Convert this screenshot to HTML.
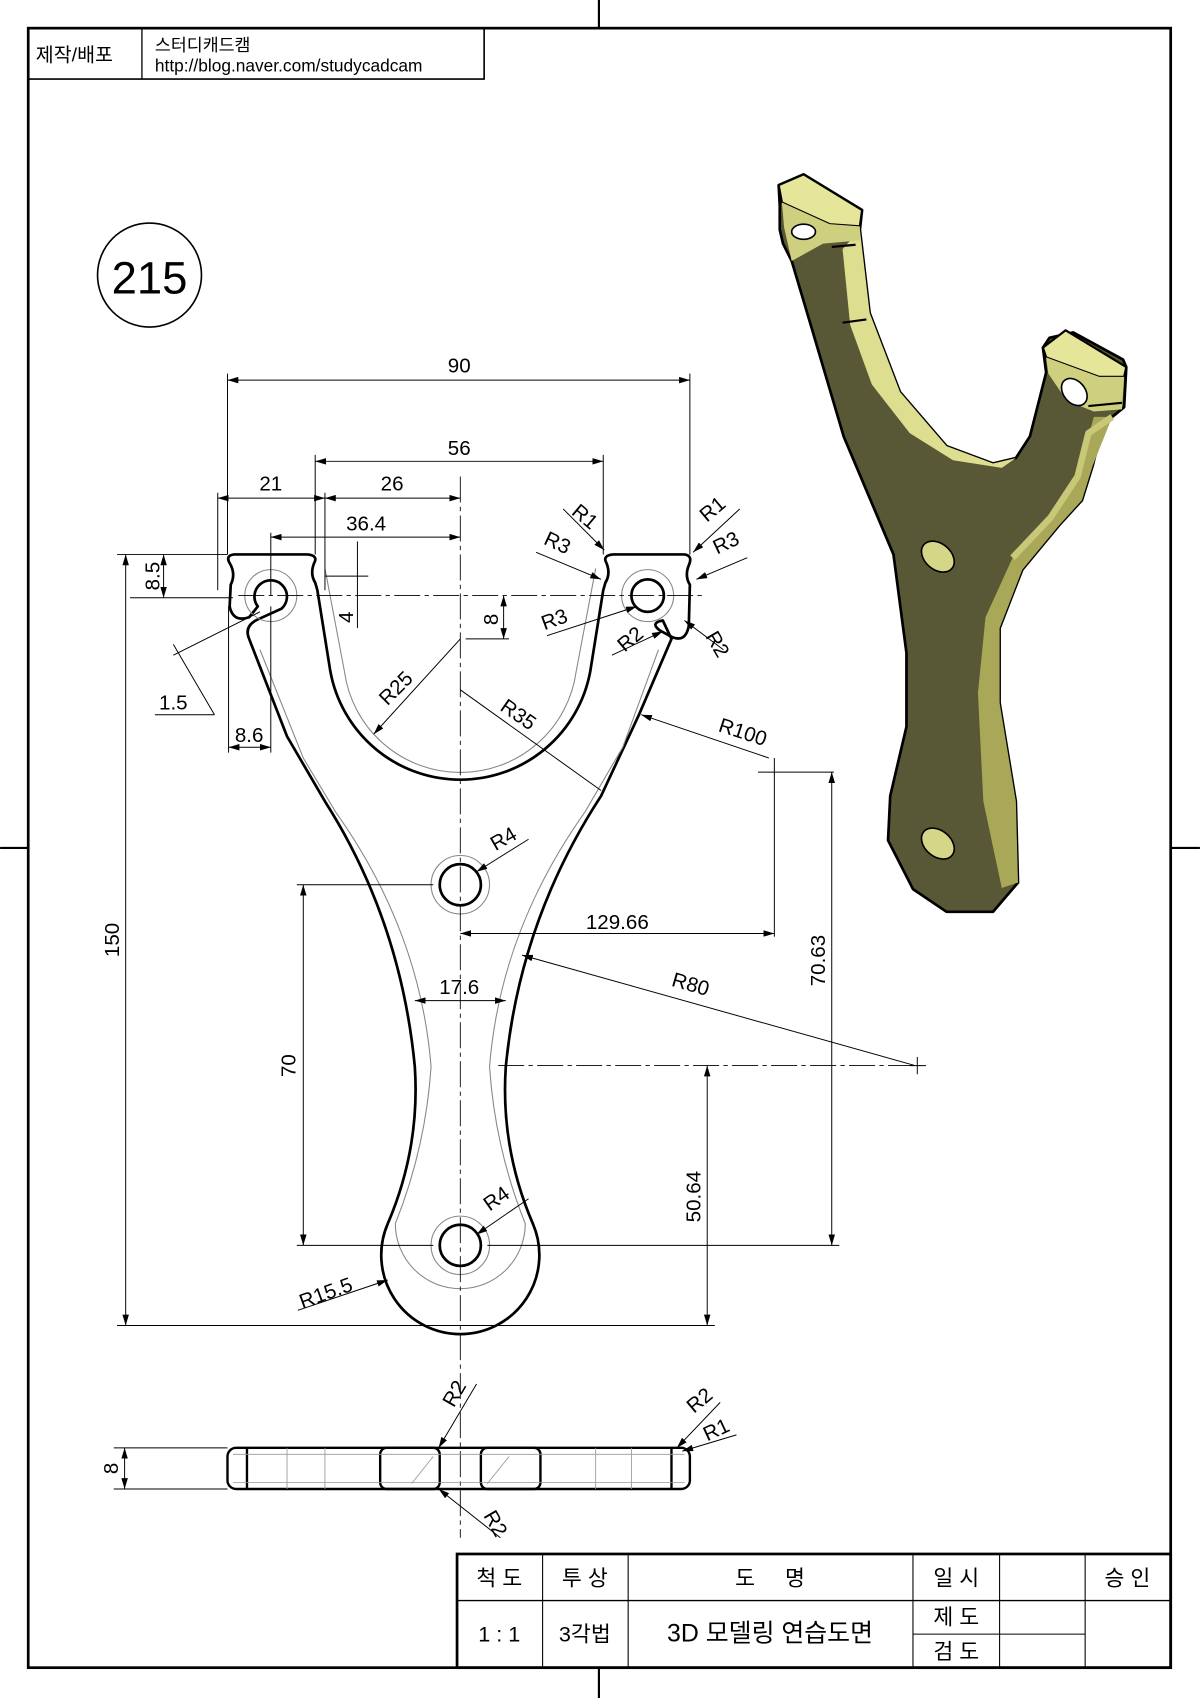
<!DOCTYPE html>
<html><head><meta charset="utf-8"><style>
html,body{margin:0;padding:0;background:#fff}
svg{display:block}
text{font-family:"Liberation Sans","Noto Sans CJK KR",sans-serif;fill:#000}
</style></head><body>
<svg width="1200" height="1698" viewBox="0 0 1108 1568" xmlns="http://www.w3.org/2000/svg">
<defs>
<marker id="a" viewBox="0 0 10 6" refX="10" refY="3" markerWidth="10" markerHeight="6" orient="auto-start-reverse" markerUnits="userSpaceOnUse"><path d="M0,0L10,3L0,6z" fill="#000"/></marker>
</defs>
<rect x="0" y="0" width="1108" height="1568" fill="#fff"/>
<rect x="26" y="26" width="1055" height="1514" fill="none" stroke="#000" stroke-width="2.5"/>
<line x1="553" y1="0" x2="553" y2="26" stroke="#000" stroke-width="2"/>
<line x1="553" y1="1540" x2="553" y2="1568" stroke="#000" stroke-width="2"/>
<line x1="0" y1="783" x2="26" y2="783" stroke="#000" stroke-width="2"/>
<line x1="1081" y1="783" x2="1108" y2="783" stroke="#000" stroke-width="2"/>
<rect x="26" y="26" width="421" height="47" fill="none" stroke="#000" stroke-width="1.5"/>
<line x1="131" y1="26" x2="131" y2="73" stroke="#000" stroke-width="1.2"/>
<text x="33" y="57" font-size="18">제작/배포</text>
<text x="143" y="47" font-size="16">스터디캐드캠</text>
<text x="143" y="66" font-size="16">http://blog.naver.com/studycadcam</text>
<circle cx="138" cy="254" r="48" fill="none" stroke="#000" stroke-width="1.5"/>
<text x="138" y="271" font-size="42" text-anchor="middle">215</text>
<g stroke="#000" fill="none">
<rect x="422" y="1435" width="659" height="105" stroke-width="2.5"/>
<line x1="422" y1="1478" x2="1081" y2="1478" stroke-width="1.2"/>
<line x1="501" y1="1435" x2="501" y2="1540"/><line x1="580" y1="1435" x2="580" y2="1540"/>
<line x1="843" y1="1435" x2="843" y2="1540"/><line x1="923" y1="1435" x2="923" y2="1540"/>
<line x1="1002" y1="1435" x2="1002" y2="1540"/><line x1="843" y1="1509" x2="1002" y2="1509"/>
</g>
<g font-size="20" text-anchor="middle">
<text x="461" y="1464">척 도</text><text x="540" y="1464">투 상</text><text x="711" y="1464">도 &#160; &#160; 명</text>
<text x="883" y="1464">일 시</text><text x="1041" y="1464">승 인</text>
<text x="461" y="1516">1 : 1</text><text x="540" y="1516">3각법</text><text x="711" y="1516" font-size="23">3D 모델링 연습도면</text>
<text x="883" y="1500">제 도</text><text x="883" y="1532">검 도</text>
</g>
<g fill="none" stroke="#000" stroke-width="2.5" stroke-linejoin="round">
<path d="M290,520 Q286,530 291,538 L293,545 L305,620 A122,122 0 0 0 545,620 L557,545 L559,538 Q564,530 560,520 Q556,513 566,512 L632,512 Q640,513 636,522 Q632,532 637,540 L636,578 Q633,594 620,588 L609,582 Q600,575 612,573 L620,590 L590,660 L555,735 Q480,850 467,985 Q462,1060 492,1130 A73,73 0 1 1 358,1130 Q388,1060 383,985 Q370,850 300,740 L265,680 L230,590 Q225,578 238,572 L260,562 A15,15 0 1 0 238,560 L230,570 Q215,575 212,560 L213,540 Q218,530 212,520 Q208,513 216,512 L284,512 Q294,513 290,520 Z"/>
<circle cx="598" cy="550" r="15"/>
<circle cx="425" cy="817" r="19"/><circle cx="425" cy="1150" r="19"/>
</g>
<g fill="none" stroke="#888" stroke-width="1">
<path d="M300,525 L318,620 A108,108 0 0 0 532,620 L550,525"/>
<path d="M240,600 L280,700 L310,750 Q388,860 398,985 Q393,1060 365,1130 A60,60 0 1 0 485,1130 Q457,1060 452,985 Q462,860 540,750 L575,690 L608,600"/>
<circle cx="250" cy="550" r="24"/><circle cx="598" cy="550" r="24"/>
<circle cx="425" cy="817" r="27"/><circle cx="425" cy="1150" r="27"/>
</g>
<g stroke="#000" stroke-width="0.8" stroke-dasharray="24,4,4,4" fill="none">
<line x1="425" y1="440" x2="425" y2="1420"/>
<line x1="220" y1="550" x2="650" y2="550"/>
<line x1="460" y1="984" x2="850" y2="984"/>
</g>
<g stroke="#000" stroke-width="0.9" fill="none">
<line x1="210" y1="345" x2="210" y2="512"/><line x1="637" y1="345" x2="637" y2="512"/>
<line x1="210" y1="351" x2="637" y2="351" marker-start="url(#a)" marker-end="url(#a)"/>
<line x1="291" y1="420" x2="291" y2="512"/><line x1="557" y1="420" x2="557" y2="512"/>
<line x1="291" y1="426" x2="557" y2="426" marker-start="url(#a)" marker-end="url(#a)"/>
<line x1="201" y1="455" x2="201" y2="545"/><line x1="300" y1="455" x2="300" y2="545"/>
<line x1="201" y1="460" x2="300" y2="460" marker-start="url(#a)" marker-end="url(#a)"/>
<line x1="300" y1="460" x2="425" y2="460" marker-start="url(#a)" marker-end="url(#a)"/>
<line x1="250" y1="492" x2="250" y2="550"/>
<line x1="250" y1="496" x2="425" y2="496" marker-start="url(#a)" marker-end="url(#a)"/>
<line x1="108" y1="512" x2="210" y2="512"/><line x1="108" y1="1224" x2="660" y2="1224"/>
<line x1="116" y1="512" x2="116" y2="1224" marker-start="url(#a)" marker-end="url(#a)"/>
<line x1="120" y1="552" x2="215" y2="552"/>
<line x1="151" y1="512" x2="151" y2="552" marker-start="url(#a)" marker-end="url(#a)"/>
<line x1="330" y1="500" x2="330" y2="580"/><line x1="300" y1="532" x2="340" y2="532"/>
<line x1="430" y1="590" x2="470" y2="590"/>
<line x1="465" y1="550" x2="465" y2="590" marker-start="url(#a)" marker-end="url(#a)"/>
<line x1="211" y1="560" x2="211" y2="695"/><line x1="250" y1="560" x2="250" y2="695"/>
<line x1="211" y1="690" x2="250" y2="690" marker-start="url(#a)" marker-end="url(#a)"/>
<line x1="143" y1="660" x2="198" y2="660"/><line x1="198" y1="660" x2="160" y2="595"/>
<line x1="160" y1="605" x2="240" y2="565"/>
<line x1="425" y1="590" x2="345" y2="678" marker-end="url(#a)"/>
<line x1="425" y1="637" x2="555" y2="730"/>
<line x1="710" y1="700" x2="592" y2="660" marker-end="url(#a)"/>
<line x1="700" y1="713" x2="770" y2="713"/>
<line x1="715" y1="700" x2="715" y2="865"/>
<line x1="425" y1="862" x2="715" y2="862" marker-start="url(#a)" marker-end="url(#a)"/>
<line x1="768" y1="713" x2="768" y2="1150" marker-start="url(#a)" marker-end="url(#a)"/>
<line x1="450" y1="1150" x2="775" y2="1150"/>
<line x1="653" y1="984" x2="653" y2="1224" marker-start="url(#a)" marker-end="url(#a)"/>
<line x1="845" y1="984" x2="482" y2="882" marker-end="url(#a)"/>
<line x1="274" y1="817" x2="400" y2="817"/><line x1="274" y1="1150" x2="400" y2="1150"/>
<line x1="280" y1="817" x2="280" y2="1150" marker-start="url(#a)" marker-end="url(#a)"/>
<line x1="383" y1="924" x2="467" y2="924" marker-start="url(#a)" marker-end="url(#a)"/>
<line x1="488" y1="775" x2="440" y2="805" marker-end="url(#a)"/>
<line x1="488" y1="1107" x2="440" y2="1140" marker-end="url(#a)"/>
<line x1="275" y1="1210" x2="358" y2="1182" marker-end="url(#a)"/>
<line x1="520" y1="470" x2="558" y2="508" marker-end="url(#a)"/><line x1="495" y1="510" x2="555" y2="535" marker-end="url(#a)"/>
<line x1="505" y1="587" x2="588" y2="560" marker-end="url(#a)"/><line x1="565" y1="605" x2="612" y2="583" marker-end="url(#a)"/>
<line x1="683" y1="470" x2="640" y2="510" marker-end="url(#a)"/><line x1="690" y1="515" x2="643" y2="535" marker-end="url(#a)"/>
<line x1="668" y1="600" x2="632" y2="573" marker-end="url(#a)"/>
<line x1="840" y1="984" x2="855" y2="984"/><line x1="847" y1="976" x2="847" y2="992"/>
</g>
<g font-size="19" text-anchor="middle">
<text x="424" y="344">90</text><text x="424" y="420">56</text><text x="250" y="453">21</text><text x="362" y="453">26</text>
<text x="338" y="490">36.4</text><text x="160" y="655">1.5</text><text x="230" y="685">8.6</text>
<text x="570" y="858">129.66</text><text x="424" y="918">17.6</text>
<text transform="translate(147,532) rotate(-90)">8.5</text>
<text transform="translate(326,570) rotate(-90)">4</text>
<text transform="translate(460,572) rotate(-90)">8</text>
<text transform="translate(110,868) rotate(-90)">150</text>
<text transform="translate(273,984) rotate(-90)">70</text>
<text transform="translate(647,1105) rotate(-90)">50.64</text>
<text transform="translate(762,887) rotate(-90)">70.63</text>
<text transform="translate(370,640) rotate(-45)">R25</text>
<text transform="translate(475,665) rotate(35)">R35</text>
<text transform="translate(684,682) rotate(18)">R100</text>
<text transform="translate(636,915) rotate(16)">R80</text>
<text transform="translate(468,780) rotate(-30)">R4</text>
<text transform="translate(462,1112) rotate(-35)">R4</text>
<text transform="translate(303,1200) rotate(-20)">R15.5</text>
<text transform="translate(536,482) rotate(40)">R1</text><text transform="translate(512,507) rotate(25)">R3</text>
<text transform="translate(514,578) rotate(-20)">R3</text><text transform="translate(586,595) rotate(-40)">R2</text>
<text transform="translate(662,475) rotate(-40)">R1</text><text transform="translate(673,507) rotate(-25)">R3</text>
<text transform="translate(657,598) rotate(60)">R2</text>
</g>
<g fill="none" stroke="#000" stroke-width="2.2">
<rect x="210" y="1337" width="427" height="38" rx="8"/>
<line x1="228" y1="1337" x2="228" y2="1375"/><line x1="620" y1="1337" x2="620" y2="1375"/>
<rect x="351" y="1337" width="55" height="38" rx="6"/><rect x="444" y="1337" width="55" height="38" rx="6"/>
</g>
<g stroke="#999" stroke-width="0.8" fill="none">
<line x1="215" y1="1343" x2="632" y2="1343"/><line x1="215" y1="1369" x2="632" y2="1369"/>
<line x1="265" y1="1337" x2="265" y2="1375"/><line x1="300" y1="1337" x2="300" y2="1375"/>
<line x1="550" y1="1337" x2="550" y2="1375"/><line x1="583" y1="1337" x2="583" y2="1375"/>
<line x1="380" y1="1370" x2="400" y2="1345"/><line x1="450" y1="1370" x2="470" y2="1345"/>
</g>
<g stroke="#000" stroke-width="0.9" fill="none">
<line x1="105" y1="1337" x2="210" y2="1337"/><line x1="105" y1="1375" x2="210" y2="1375"/>
<line x1="115" y1="1337" x2="115" y2="1375" marker-start="url(#a)" marker-end="url(#a)"/>
<line x1="440" y1="1278" x2="405" y2="1337" marker-end="url(#a)"/>
<line x1="462" y1="1420" x2="405" y2="1375" marker-end="url(#a)"/>
<line x1="665" y1="1295" x2="625" y2="1337" marker-end="url(#a)"/>
<line x1="680" y1="1325" x2="630" y2="1340" marker-end="url(#a)"/>
</g>
<g font-size="19" text-anchor="middle">
<text transform="translate(109,1356) rotate(-90)">8</text>
<text transform="translate(425,1290) rotate(-60)">R2</text>
<text transform="translate(452,1410) rotate(60)">R2</text>
<text transform="translate(650,1298) rotate(-40)">R2</text>
<text transform="translate(664,1326) rotate(-25)">R1</text>
</g>
<!-- 3D view -->
<g stroke-linejoin="round">
<path d="M720,190 L720,212 L723,225 L731,241 L748,298 L779,403 L825,512 L837,603 L837,671 L822,735 L820,776 L843,821 L874,842 L917,842 L940,815 L938,740 L923,649 L923,580 L944,526 L978,485 L999,462 L1009,430 L1018,394 L1027,385 L1038,376 L1040,339 L1037,332 L991,307 L969,312 L963,321 L966,344 L951,403 L938,423 L917,428 L874,412 L831,362 L803,289 L794,212 L796,194 L742,161 L719,171 Z" fill="#585836" stroke="#000" stroke-width="2.5"/>
<path d="M794,212 L803,289 L831,362 L874,412 L917,428 L938,423 L925,432 L880,425 L840,400 L805,355 L785,300 L778,230 Z" fill="#dede90"/>
<path d="M1027,385 L1009,430 L999,462 L978,485 L944,526 L923,580 L923,649 L938,740 L940,815 L925,820 L908,740 L903,640 L910,570 L935,515 L970,478 L995,440 L1010,385 Z" fill="#a8a858"/>
<path d="M1027,385 L1005,400 L995,440 L970,478 L935,515" fill="none" stroke="#c8c878" stroke-width="6"/>
<path d="M719,171 L742,161 L796,194 L794,209 L766,207 L722,187 Z" fill="#e6e69a" stroke="#000" stroke-width="2"/>
<path d="M963,321 L984,305 L1040,339 L1038,348 L1015,348 L966,330 Z" fill="#e6e69a" stroke="#000" stroke-width="2"/>
<path d="M966,330 L1015,348 L1038,348 L1036,378 L1010,380 L985,370 L968,345 Z" fill="#cfcf80"/>
<path d="M722,187 L766,207 L794,209 L794,222 L760,225 L731,241 L724,210 Z" fill="#cfcf80"/>
<ellipse cx="742" cy="214" rx="11" ry="7" fill="#fff" stroke="#000" stroke-width="1.5"/>
<ellipse cx="992" cy="362" rx="10" ry="14" fill="#fff" stroke="#000" stroke-width="1.5" transform="rotate(-40 992 362)"/>
<ellipse cx="866" cy="514" rx="17" ry="12" fill="#d6d688" stroke="#000" stroke-width="1.5" transform="rotate(40 866 514)"/>
<ellipse cx="866" cy="779" rx="17" ry="12" fill="#d6d688" stroke="#000" stroke-width="1.5" transform="rotate(40 866 779)"/>
<line x1="768" y1="228" x2="790" y2="226" stroke="#000" stroke-width="2"/>
<line x1="778" y1="298" x2="800" y2="295" stroke="#000" stroke-width="2"/>
<line x1="1005" y1="375" x2="1036" y2="372" stroke="#000" stroke-width="2"/>
</g>
</svg>
</body></html>
